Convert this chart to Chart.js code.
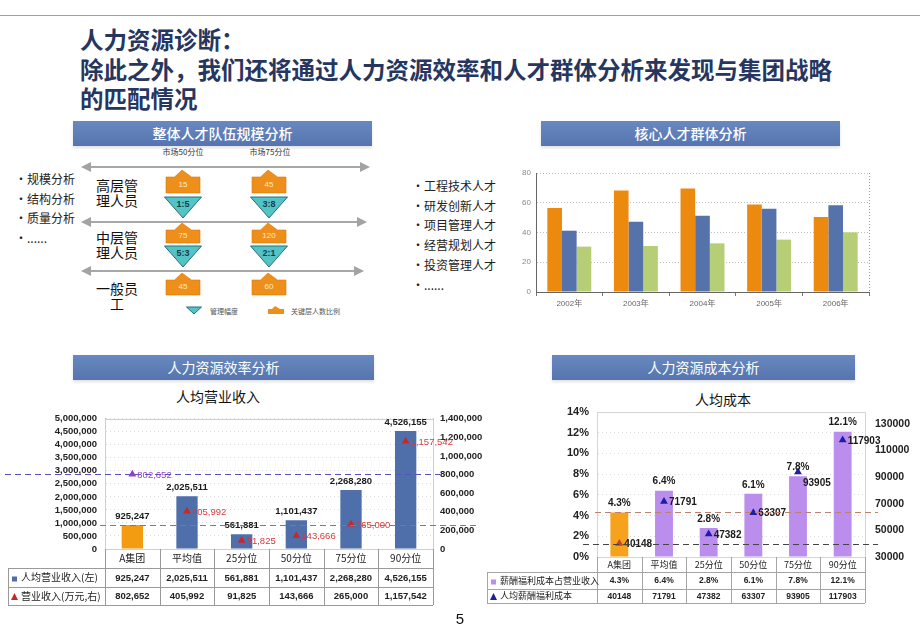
<!DOCTYPE html>
<html lang="zh">
<head>
<meta charset="utf-8">
<title>人力资源诊断</title>
<script src="https://cdn.jsdelivr.net/npm/chart.js@4.4.1/dist/chart.umd.min.js"></script>
<style>
  body { margin: 0; background: #fff; }
  #slide { position: relative; width: 920px; height: 637px; overflow: hidden; font-family: "Noto Sans CJK SC", sans-serif; color: #111; }
  .abs { position: absolute; }
  .rule { left: 0; top: 15px; width: 920px; border-top: 1.5px solid #9aa0ab; }
  .title { left: 80px; top: 25px; font-size: 23.5px; font-weight: 700; line-height: 29.5px; color: #26365f; white-space: nowrap; }
  .hbar { height: 25px; line-height: 25px; text-align: center; color: #fff; font-size: 14px; background: linear-gradient(#6888c0, #5675ae); box-shadow: 0 2px 3px rgba(0,0,0,0.12); }
  .list { font-size: 12px; line-height: 19.7px; color: #222; white-space: nowrap; }
  .sub { font-size: 14px; color: #111; text-align: center; }
  canvas { position: absolute; }
</style>
</head>
<body>
<div id="slide">
  <div class="abs rule"></div>
  <div class="abs title">人力资源诊断：<br>除此之外，我们还将通过人力资源效率和人才群体分析来发现与集团战略<br>的匹配情况</div>

  <div class="abs hbar" style="left:73px;top:121px;width:299px;font-weight:500">整体人才队伍规模分析</div>
  <div class="abs hbar" style="left:541px;top:121px;width:299px;font-weight:500">核心人才群体分析</div>
  <div class="abs hbar" style="left:73px;top:355px;width:301px">人力资源效率分析</div>
  <div class="abs hbar" style="left:552px;top:355px;width:303px">人力资源成本分析</div>

  <div class="abs list" style="left:15px;top:169px">•规模分析<br>•结构分析<br>•质量分析<br>•......</div>
  <svg id="pyramid" class="abs" style="left:0;top:0" width="920" height="637"></svg>

  <div class="abs list" style="left:412px;top:176px">•工程技术人才<br>•研发创新人才<br>•项目管理人才<br>•经营规划人才<br>•投资管理人才<br>•......</div>
  <canvas id="talentChart" width="380" height="160" style="left:500px;top:160px"></canvas>

  <div class="abs sub" style="left:150px;top:386px;width:136px">人均营业收入</div>
  <canvas id="revenueChart" width="490" height="207" style="left:0;top:405px"></canvas>

  <div class="abs sub" style="left:673px;top:389px;width:100px">人均成本</div>
  <canvas id="costChart" width="435" height="217" style="left:480px;top:395px"></canvas>

  <div class="abs" style="left:450px;top:610px;width:20px;text-align:center;font:15px 'Liberation Sans', Arial">5</div>
</div>

<script>
// 核心人才群体分析
const years = ['2002年', '2003年', '2004年', '2005年', '2006年'];
const engineerTalent = [56.5, 68.3, 69.5, 58.9, 50.4];
const rdTalent = [41.2, 47.3, 51.3, 56.0, 58.3];
const projectTalent = [30.5, 30.9, 32.7, 35.2, 40.1];
const talentTicks = [0, 20, 40, 60, 80];

// 人均营业收入
const benchmarks = ['A集团', '平均值', '25分位', '50分位', '75分位', '90分位'];
const revenuePerHead = [925247, 2025511, 561881, 1101437, 2268280, 4526155];
const revenueTotal = [802652, 405992, 91825, 143666, 265000, 1157542];
const revenueLeftTicks = [0, 500000, 1000000, 1500000, 2000000, 2500000, 3000000, 3500000, 4000000, 4500000, 5000000];
const revenueRightTicks = [0, 200000, 400000, 600000, 800000, 1000000, 1200000, 1400000];

// 人均成本
const costShare = [4.3, 6.4, 2.8, 6.1, 7.8, 12.1];
const costPerHead = [40148, 71791, 47382, 63307, 93905, 117903];
const costLeftTicks = [0, 2, 4, 6, 8, 10, 12, 14];
const costRightTicks = [30000, 50000, 70000, 90000, 110000, 130000];

// 整体人才队伍规模分析 (diagram)
const levelNames = [['高层管', '理人员'], ['中层管', '理人员'], ['一般员', '工']];
const headcount50 = ['15', '75', '45'];
const headcount75 = ['45', '120', '60'];
const span50 = ['1:5', '5:3'];
const span75 = ['3:8', '2:1'];

const ORANGE = '#f39c12';
const BLUE = '#4f6fab';
const LAVENDER = '#bb8dec';
const NAVY = '#1d1da6';

Chart.defaults.font.family = '"Liberation Sans", Arial, "Noto Sans CJK SC", sans-serif';
Chart.defaults.animation = false;

const fmt = v => v.toLocaleString('en-US');
const fixedTicks = list => scale => { scale.ticks = list.map(v => ({ value: v })); };

// ---------- diagram ----------
(function drawPyramid() {
  const svg = document.getElementById('pyramid');
  const NS = 'http://www.w3.org/2000/svg';
  function add(tag, attrs, text) {
    const e = document.createElementNS(NS, tag);
    for (const k in attrs) e.setAttribute(k, attrs[k]);
    if (text !== undefined) e.textContent = text;
    svg.appendChild(e);
    return e;
  }
  const defs = add('defs', {});
  const mk = document.createElementNS(NS, 'marker');
  [['id', 'arr'], ['viewBox', '0 0 10 10'], ['refX', '8'], ['refY', '5'], ['markerWidth', '5'], ['markerHeight', '5'], ['orient', 'auto-start-reverse']]
    .forEach(([k, v]) => mk.setAttribute(k, v));
  const mp = document.createElementNS(NS, 'path');
  mp.setAttribute('d', 'M0,0 L10,5 L0,10 Z');
  mp.setAttribute('fill', '#a3a3a3');
  mk.appendChild(mp);
  defs.appendChild(mk);

  [[167, 368], [222, 365], [271, 362]].forEach(([y, x2]) => {
    add('line', { x1: 83, y1: y, x2: x2, y2: y, stroke: '#a8a8a8', 'stroke-width': 2, 'marker-start': 'url(#arr)', 'marker-end': 'url(#arr)' });
  });

  add('text', { x: 183, y: 155, 'font-size': 8, fill: '#333', 'text-anchor': 'middle' }, '市场50分位');
  add('text', { x: 270, y: 155, 'font-size': 8, fill: '#333', 'text-anchor': 'middle' }, '市场75分位');

  const house = (cx, top, bottom, w, roof) => {
    const h = w / 2;
    return `M${cx - h},${bottom} L${cx - h},${top + roof} L${cx - h / 2},${top + roof} L${cx - 1},${top} L${cx + h / 2},${top + roof} L${cx + h},${top + roof} L${cx + h},${bottom} Z`;
  };
  const tri = (cx, top, bottom, w) => `M${cx - w / 2},${top} L${cx + w / 2},${top} L${cx},${bottom} Z`;

  const houseRows = [[170, 193], [223, 243], [273, 295]];
  const triRows = [[197, 218], [246, 267]];
  const cols = [[183, headcount50, span50], [269, headcount75, span75]];
  cols.forEach(([cx, heads, spans]) => {
    houseRows.forEach(([t, b], i) => {
      add('path', { d: house(cx, t, b, 34, 7), fill: '#ee8f1c', stroke: '#d9790c', 'stroke-width': 0.6 });
      add('text', { x: cx, y: (t + b) / 2 + 5, 'font-size': 8, fill: '#fde9c9', 'text-anchor': 'middle', 'font-family': 'Liberation Sans' }, heads[i]);
    });
    triRows.forEach(([t, b], i) => {
      add('path', { d: tri(cx, t, b, 37), fill: '#52c4c6', stroke: '#2c6a78', 'stroke-width': 1 });
      add('text', { x: cx, y: t + 10, 'font-size': 9, 'font-weight': 'bold', fill: '#1b3c4c', 'text-anchor': 'middle', 'font-family': 'Liberation Sans' }, spans[i]);
    });
  });

  const nameY = [[186, 201], [238, 253], [289, 304]];
  levelNames.forEach((pair, i) => {
    pair.forEach((s, j) => add('text', { x: 117, y: nameY[i][j] + 5, 'font-size': 14, fill: '#111', 'text-anchor': 'middle' }, s));
  });

  add('path', { d: tri(194, 307, 314, 15), fill: '#52c4c6', stroke: '#2c6a78', 'stroke-width': 1 });
  add('text', { x: 210, y: 314, 'font-size': 7, fill: '#555' }, '管理幅度');
  add('path', { d: house(276, 306, 314, 16, 3), fill: '#ee8f1c' });
  add('text', { x: 291, y: 314, 'font-size': 7, fill: '#555' }, '关键层人数比例');
})();

// ---------- 核心人才群体分析 ----------
const frameRight = {
  id: 'frameRight',
  afterDraw(chart) {
    const { ctx, chartArea: a } = chart;
    ctx.save();
    ctx.strokeStyle = '#9a9a9a';
    ctx.setLineDash([1, 2]);
    ctx.beginPath();
    ctx.moveTo(a.right + 0.5, a.top);
    ctx.lineTo(a.right + 0.5, a.bottom);
    ctx.stroke();
    ctx.restore();
  }
};

new Chart(document.getElementById('talentChart'), {
  type: 'bar',
  data: {
    labels: years,
    datasets: [
      { label: '工程技术人才', data: engineerTalent, backgroundColor: '#ec8a10' },
      { label: '研发创新人才', data: rdTalent, backgroundColor: '#5573aa' },
      { label: '项目管理人才', data: projectTalent, backgroundColor: '#b6cf76' }
    ]
  },
  options: {
    responsive: false,
    categoryPercentage: 0.66,
    barPercentage: 1.0,
    layout: { padding: { top: 13, right: 11, bottom: 8, left: 0 } },
    plugins: { legend: { display: false }, tooltip: { enabled: false } },
    scales: {
      x: {
        grid: { display: true, drawOnChartArea: false, drawTicks: true, tickLength: 4, color: '#777' },
        border: { color: '#666' },
        ticks: { font: { size: 8 }, color: '#666', padding: 3 },
        afterFit: s => { s.height = 20; }
      },
      y: {
        min: 0, max: 80,
        afterBuildTicks: fixedTicks(talentTicks),
        grid: { color: '#bdbdbd', drawTicks: false },
        border: { color: '#666', dash: [1, 2] },
        ticks: { font: { size: 8 }, color: '#888', padding: 5, autoSkip: false },
        afterFit: s => { s.width = 36; }
      }
    }
  },
  plugins: [frameRight]
});

// ---------- shared helpers ----------
function dashedLine(ctx, y, x0, x1, color) {
  ctx.save();
  ctx.strokeStyle = color;
  ctx.lineWidth = 1.2;
  ctx.setLineDash([6, 4]);
  ctx.beginPath();
  ctx.moveTo(x0, Math.round(y) + 0.5);
  ctx.lineTo(x1, Math.round(y) + 0.5);
  ctx.stroke();
  ctx.restore();
}

function drawFrame(chart, color) {
  const { ctx, chartArea: a } = chart;
  ctx.save();
  ctx.strokeStyle = color;
  ctx.lineWidth = 1;
  ctx.strokeRect(Math.round(a.left) + 0.5, Math.round(a.top) + 0.5, Math.round(a.right - a.left), Math.round(a.bottom - a.top));
  ctx.restore();
}

function drawTable(chart, t) {
  const { ctx, chartArea: a, scales: { x } } = chart;
  const n = chart.data.labels.length;
  const half = (x.getPixelForValue(1) - x.getPixelForValue(0)) / 2;
  const head = a.bottom + t.headH;
  const r1 = head + t.rowH;
  const r2 = r1 + t.rowH2;
  ctx.save();
  ctx.strokeStyle = t.lineColor;
  ctx.lineWidth = 1;
  ctx.beginPath();
  for (let i = 0; i <= n; i++) {
    const px = Math.round(x.getPixelForValue(i) - half) + 0.5;
    ctx.moveTo(px, a.bottom);
    ctx.lineTo(px, r2);
  }
  [head, r1, r2].forEach(y => {
    const py = Math.round(y) + 0.5;
    ctx.moveTo(t.left, py);
    ctx.lineTo(a.right, py);
  });
  ctx.moveTo(t.left + 0.5, head);
  ctx.lineTo(t.left + 0.5, r2);
  ctx.stroke();

  t.rows.forEach((row, k) => {
    const yc = k === 0 ? (head + r1) / 2 : (r1 + r2) / 2;
    ctx.fillStyle = row.markerColor;
    if (row.marker === 'square') {
      ctx.fillRect(t.left + 4, yc - 1, 5, 5);
    } else {
      ctx.beginPath();
      ctx.moveTo(t.left + 6.5, yc - 3);
      ctx.lineTo(t.left + 10, yc + 4);
      ctx.lineTo(t.left + 3, yc + 4);
      ctx.closePath();
      ctx.fill();
    }
    ctx.fillStyle = '#222';
    ctx.font = t.labelFont;
    ctx.textAlign = 'left';
    ctx.textBaseline = 'middle';
    ctx.fillText(row.label, t.left + 13, yc);
    ctx.font = t.valueFont;
    ctx.textAlign = 'center';
    row.values.forEach((v, i) => ctx.fillText(v, x.getPixelForValue(i), yc + 0.5));
  });
  ctx.restore();
}

function drawValueLabels(chart, o) {
  const ctx = chart.ctx;
  const bars = chart.getDatasetMeta(0).data;
  const points = chart.getDatasetMeta(1).data;
  ctx.save();
  ctx.font = o.barFont;
  ctx.fillStyle = '#1a1a1a';
  ctx.textAlign = 'center';
  ctx.textBaseline = 'bottom';
  bars.forEach((el, i) => ctx.fillText(o.barText[i], el.x, el.y - 4));
  ctx.font = o.pointFont;
  ctx.textAlign = 'left';
  ctx.textBaseline = 'middle';
  points.forEach((el, i) => {
    const dy = o.pointDy ? o.pointDy[i] : 0;
    ctx.fillStyle = o.pointColors[i];
    ctx.fillText(o.pointText[i], el.x + 5, el.y + 1 + dy);
  });
  ctx.restore();
}

// ---------- 人均营业收入 ----------
const revenueExtras = {
  id: 'revenueExtras',
  beforeDatasetsDraw(chart) { drawFrame(chart, '#cfcfcf'); },
  afterDatasetsDraw(chart) {
    const { ctx, scales } = chart;
    drawValueLabels(chart, {
      barFont: 'bold 9.5px "Liberation Sans", Arial',
      pointFont: '9.5px "Liberation Sans", Arial',
      barText: revenuePerHead.map(fmt),
      pointText: revenueTotal.map(fmt),
      pointColors: revenueTotal.map((_, i) => i === 0 ? '#9b3cc6' : '#d83a3a')
    });
    dashedLine(ctx, scales.y1.getPixelForValue(revenueTotal[0]), 5, 440, '#5a4fbf');
    dashedLine(ctx, scales.y.getPixelForValue(revenuePerHead[0]), 100, 480, '#c0605a');
  },
  afterDraw(chart) {
    drawTable(chart, {
      left: 8, headH: 19, rowH: 19, rowH2: 18, lineColor: '#9a9a9a',
      labelFont: '10px "Noto Sans CJK SC"',
      valueFont: 'bold 9.5px "Liberation Sans", Arial',
      rows: [
        { label: '人均营业收入(左)', marker: 'square', markerColor: BLUE, values: revenuePerHead.map(fmt) },
        { label: '营业收入(万元,右)', marker: 'triangle', markerColor: '#c82828', values: revenueTotal.map(fmt) }
      ]
    });
  }
};

new Chart(document.getElementById('revenueChart'), {
  data: {
    labels: benchmarks,
    datasets: [
      {
        type: 'bar', label: '人均营业收入(左)', data: revenuePerHead, yAxisID: 'y', order: 2,
        backgroundColor: revenuePerHead.map((_, i) => i === 0 ? ORANGE : BLUE),
        categoryPercentage: 1, barPercentage: 0.39
      },
      {
        type: 'line', label: '营业收入(万元,右)', data: revenueTotal, yAxisID: 'y1', order: 1,
        showLine: false, pointStyle: 'triangle', pointRadius: 4.5, borderWidth: 0,
        pointBackgroundColor: revenueTotal.map((_, i) => i === 0 ? '#9b3cc6' : '#c82828'),
        pointBorderColor: revenueTotal.map((_, i) => i === 0 ? '#9b3cc6' : '#c82828')
      }
    ]
  },
  options: {
    responsive: false,
    layout: { padding: { top: 13, right: 0, bottom: 44, left: 0 } },
    plugins: { legend: { display: false }, tooltip: { enabled: false } },
    scales: {
      x: {
        grid: { display: false, drawTicks: false },
        border: { color: '#999' },
        ticks: { font: { size: 10, family: '"Noto Sans CJK SC"' }, color: '#222', padding: 3 },
        afterFit: s => { s.height = 19; }
      },
      y: {
        position: 'left', min: 0, max: 5000000,
        afterBuildTicks: fixedTicks(revenueLeftTicks),
        grid: { color: '#dcdcdc', drawTicks: false },
        border: { color: '#bbb', dash: [1, 3] },
        ticks: { font: { size: 9.5, weight: 'bold' }, color: '#222', padding: 8, autoSkip: false, callback: v => fmt(v) },
        afterFit: s => { s.width = 105; }
      },
      y1: {
        position: 'right', min: 0, max: 1400000,
        afterBuildTicks: fixedTicks(revenueRightTicks),
        grid: { display: false, drawTicks: false },
        border: { color: '#bbb' },
        ticks: { font: { size: 9.5, weight: 'bold' }, color: '#222', padding: 7, autoSkip: false, callback: v => fmt(v) },
        afterFit: s => { s.width = 57; }
      }
    }
  },
  plugins: [revenueExtras]
});

// ---------- 人均成本 ----------
const costExtras = {
  id: 'costExtras',
  beforeDatasetsDraw(chart) { drawFrame(chart, '#d4d4d4'); },
  afterDatasetsDraw(chart) {
    const { ctx, scales } = chart;
    drawValueLabels(chart, {
      barFont: 'bold 10px "Liberation Sans", Arial',
      pointFont: 'bold 10px "Liberation Sans", Arial',
      barText: costShare.map(v => v + '%'),
      pointText: costPerHead.map(String),
      pointColors: costPerHead.map(() => '#1a1a1a'),
      pointDy: [0, 0, 0, 0, 10, 0]
    });
    dashedLine(ctx, scales.y.getPixelForValue(costShare[0]), 115, 398, '#c08070');
    dashedLine(ctx, scales.y1.getPixelForValue(costPerHead[0]), 103, 398, '#444');
  },
  afterDraw(chart) {
    drawTable(chart, {
      left: 7, headH: 15, rowH: 17, rowH2: 14, lineColor: '#a5a5a5',
      labelFont: '9px "Noto Sans CJK SC"',
      valueFont: 'bold 8.5px "Liberation Sans", Arial',
      rows: [
        { label: '薪酬福利成本占营业收入', marker: 'square', markerColor: LAVENDER, values: costShare.map(v => v + '%') },
        { label: '人均薪酬福利成本', marker: 'triangle', markerColor: NAVY, values: costPerHead.map(String) }
      ]
    });
  }
};

new Chart(document.getElementById('costChart'), {
  data: {
    labels: benchmarks,
    datasets: [
      {
        type: 'bar', label: '薪酬福利成本占营业收入', data: costShare, yAxisID: 'y', order: 2,
        backgroundColor: costShare.map((_, i) => i === 0 ? '#f6a21c' : LAVENDER),
        categoryPercentage: 1, barPercentage: 0.4
      },
      {
        type: 'line', label: '人均薪酬福利成本', data: costPerHead, yAxisID: 'y1', order: 1,
        showLine: false, pointStyle: 'triangle', pointRadius: 4.5, borderWidth: 0,
        pointBackgroundColor: costPerHead.map((_, i) => i === 0 ? '#c0403a' : NAVY),
        pointBorderColor: costPerHead.map((_, i) => i === 0 ? '#c0403a' : NAVY)
      }
    ]
  },
  options: {
    responsive: false,
    layout: { padding: { top: 17, right: 0, bottom: 40, left: 0 } },
    plugins: { legend: { display: false }, tooltip: { enabled: false } },
    scales: {
      x: {
        grid: { display: false, drawTicks: false },
        border: { color: '#999' },
        ticks: { font: { size: 9, family: '"Noto Sans CJK SC"' }, color: '#222', padding: 2 },
        afterFit: s => { s.height = 15; }
      },
      y: {
        position: 'left', min: 0, max: 14,
        afterBuildTicks: fixedTicks(costLeftTicks),
        grid: { color: '#dcdcdc', drawTicks: false },
        border: { color: '#c8c8c8', dash: [1, 3] },
        ticks: { font: { size: 11, weight: 'bold' }, color: '#222', padding: 8, autoSkip: false, callback: v => v + '%' },
        afterFit: s => { s.width = 117; }
      },
      y1: {
        position: 'right', min: 30000, max: 139000,
        afterBuildTicks: fixedTicks(costRightTicks),
        grid: { display: false, drawTicks: false },
        border: { color: '#c8c8c8' },
        ticks: { font: { size: 10.5, weight: 'bold' }, color: '#222', padding: 10, autoSkip: false, callback: v => String(v) },
        afterFit: s => { s.width = 50; }
      }
    }
  },
  plugins: [costExtras]
});
</script>
</body>
</html>
